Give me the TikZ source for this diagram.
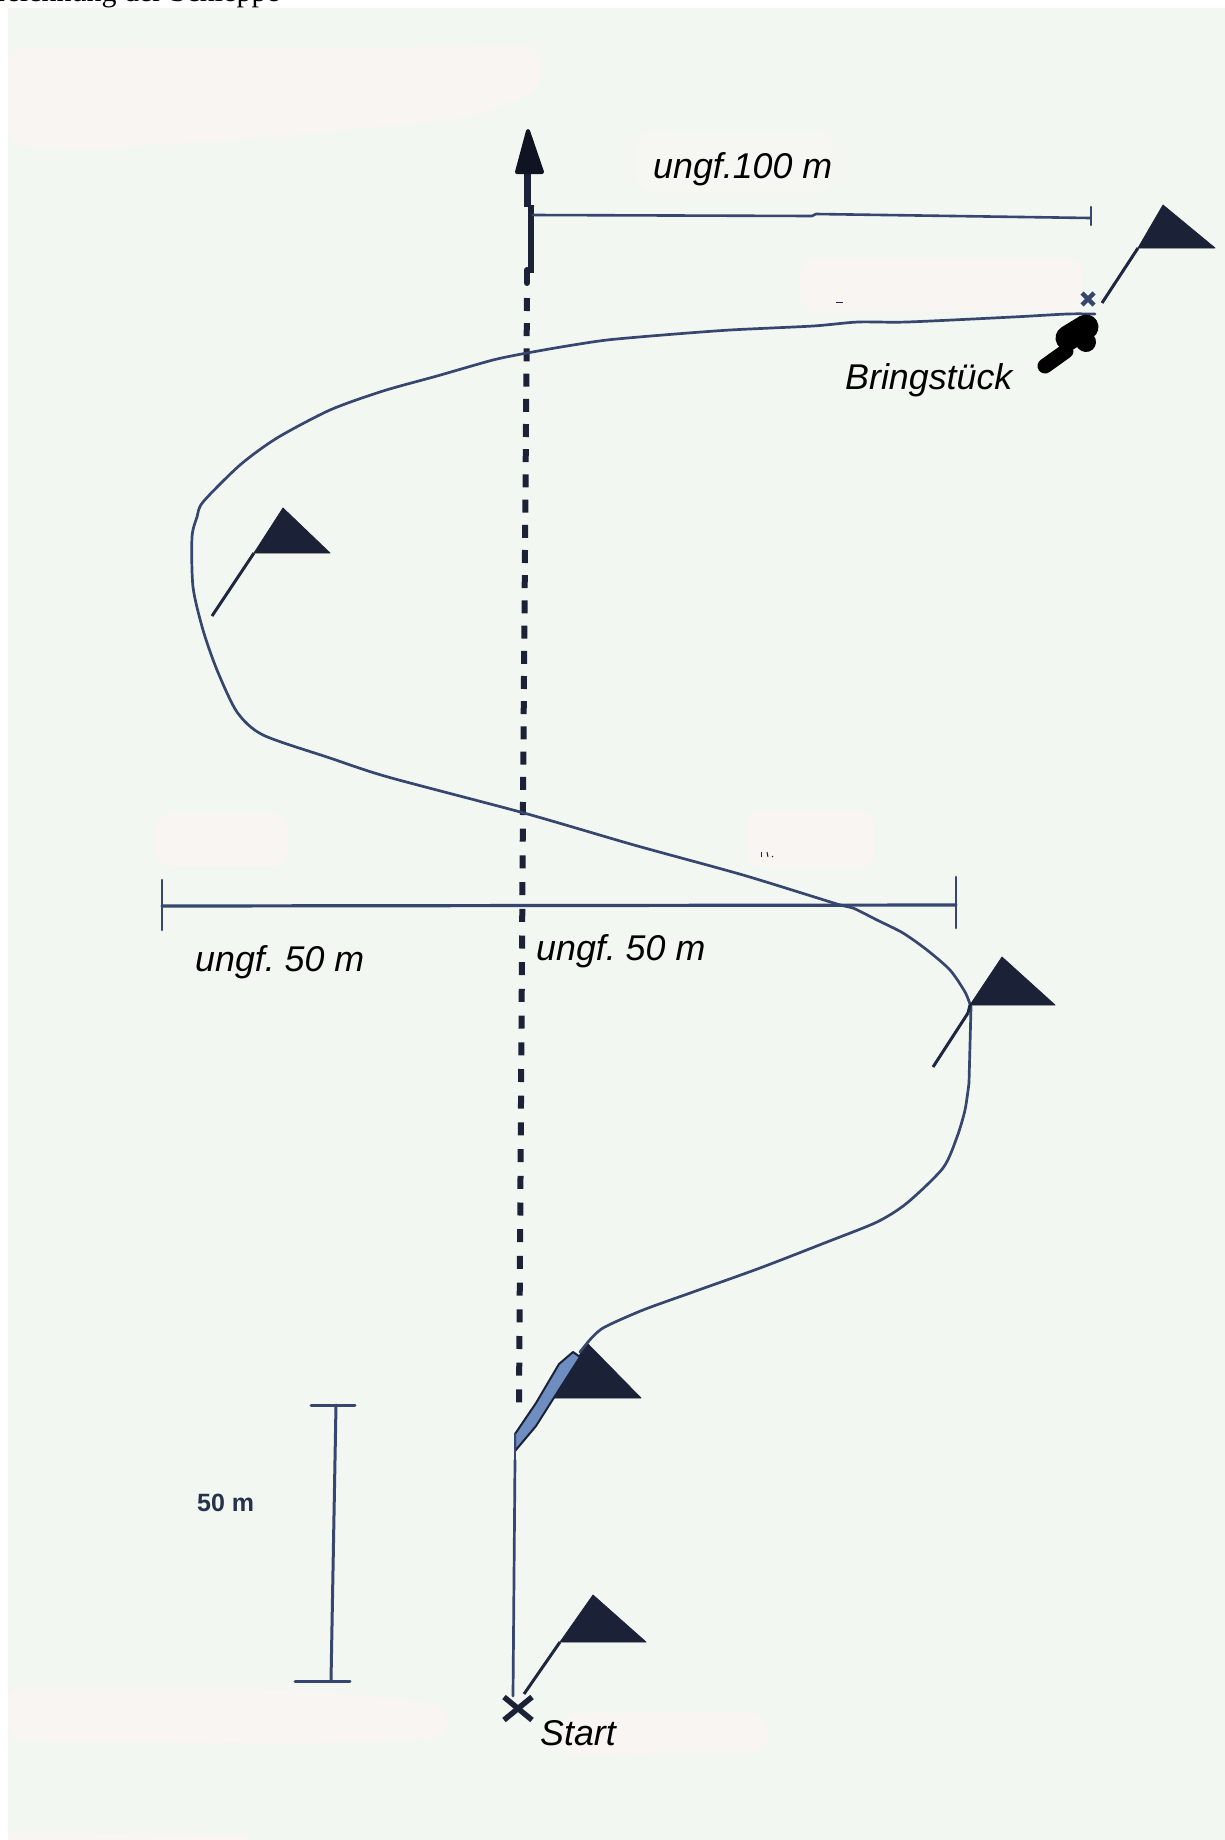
\documentclass[tikz,border=0pt]{standalone}
\usepackage{fontspec}
\setmainfont{Liberation Sans}
\newfontfamily\serifcap{Liberation Serif}
\definecolor{panelbg}{HTML}{F2F7F1}
\definecolor{patchbg}{HTML}{F9F5F2}
\definecolor{patchfaint}{HTML}{F6F6F2}
\definecolor{inkline}{HTML}{36466F}
\definecolor{inkdark}{HTML}{1B2238}
\definecolor{swath}{HTML}{6E8DC0}
\tikzset{
  patch/.style={fill=patchbg,rounded corners=16pt},
  thinline/.style={draw=inkline,line width=2.6pt,line cap=round,line join=round},
  route/.style={draw=inkline,line width=2.7pt,line cap=round,line join=round},
  staffline/.style={draw=inkdark!85!inkline,line width=3pt},
  pennant/.style={fill=inkdark,draw=inkdark,line width=.8pt,line join=round},
  label/.style={font=\fontsize{35.8}{40}\selectfont\itshape,text=black,inner sep=0pt,anchor=base west},
  trail/.style={draw=inkdark,line width=6pt},
}
\newcommand{\flagmark}[7]{%
  \draw[staffline] (#1,#2) -- (#3,#4);
  \fill[pennant] (#3,#4) -- (#5,#6) -- (#7,#4) -- cycle;
}
\begin{document}
\frenchspacing
\begin{tikzpicture}[x=1pt,y=-1pt]
\useasboundingbox (0,0) rectangle (1225,1840);
\begin{scope}
\clip (0,0) rectangle (1225,1840);
\fill[white] (0,0) rectangle (1225,1840);
\fill[panelbg] (8,8) rectangle (1225,1840);
% retouched patches
\fill[patch] (8,48) -- (541,46) -- (541,90) -- (470,118) -- (300,135) -- (90,150) -- (8,146) -- cycle;
\fill[patch] (800,258) -- (1083,258) -- (1083,312) -- (800,312) -- cycle;
\fill[patch,fill=patchfaint] (637,130) -- (833,130) -- (833,193) -- (637,193) -- cycle;
\fill[patch] (156,813) -- (288,813) -- (288,867) -- (156,867) -- cycle;
\fill[patch] (746,810) -- (875,810) -- (875,868) -- (746,868) -- cycle;
\fill[patch] (8,1687) -- (300,1689) -- (448,1705) -- (448,1738) -- (300,1744) -- (8,1740) -- cycle;
\fill[patch] (560,1713) -- (768,1713) -- (768,1752) -- (560,1755) -- cycle;
\fill[patch,rounded corners=3pt] (8,1832) -- (250,1834) -- (250,1850) -- (8,1850) -- cycle;
% clipped caption
\node[font=\serifcap\fontsize{30}{34}\selectfont,text=black,inner sep=0pt,anchor=base east] (caption) at (280,1.5) {Zeichnung der Schleppe};
% dashed trail
\draw[trail,dash pattern=on 13pt off 12.2pt] (527,298) -- (523,802);
\draw[trail,dash pattern=on 13pt off 13.7pt] (523,802) -- (519,1403);
% top arrow
\draw[draw=inkdark,line width=7pt] (527,172) -- (527,207);
\draw[draw=inkdark,line width=5.5pt] (531,205) -- (531,273);
\draw[draw=inkdark,line width=6pt,line cap=round] (527,270) -- (527,283);
\fill[fill=inkdark!60!black,draw=inkdark!60!black,line width=4pt,line join=round] (528,131) -- (517,172) -- (542,172) -- cycle;
% distance bars
\draw[thinline] (533,215) -- (812,216) -- (816,214) -- (1090,218);
\draw[thinline] (1091,207) -- (1091,225);
\draw[thinline,line width=3.2pt] (162,906) -- (956,905);
\draw[thinline] (162,880) -- (162,930);
\draw[thinline] (956,877) -- (956,928);
\draw[thinline,line width=3pt] (336,1405) -- (331,1681);
\draw[thinline,line width=3pt] (311,1405) -- (355,1405);
\draw[thinline,line width=3pt] (295,1681) -- (350,1681);
% route
\draw[route] (513,1696) -- (515,1460);
\draw[route] plot[smooth,tension=0.45] coordinates {
 (588,1342) (603,1328) (643,1310) (693,1292) (760,1268) (827,1242) (877,1222) (907,1203) (943,1168) (957,1137) (965,1110) (969,1083)};
\draw[route] (969,1083) -- (971,1007);
\draw[route] plot[smooth,tension=0.45] coordinates {
 (971,1007) (965,992) (950,970) (927,950) (903,933) (877,920) (853,908) (837,904) (743,875) (634,845) (524,813) (388,777) (330,758) (263,735) (237,712) (217,670) (203,630) (193,587) (192,537) (197,517) (203,502) (240,465) (277,438) (330,410) (383,391) (437,376) (493,360) (527,353) (567,346) (607,340) (663,335) (730,330) (813,326) (858,322) (907,322) (1013,317) (1067,314) (1095,314)};
% flags
\flagmark{524}{1694}{560}{1642}{593}{1595}{646}
\flagmark{968}{1013}{970}{1005}{1002}{957}{1055}
\draw[staffline] (968,1013) -- (933,1067);
\flagmark{212}{616}{254}{553}{283}{508}{330}
\flagmark{1102}{303}{1138}{248}{1163}{205}{1215}
% highlighted flag
\fill[pennant] (553,1398) -- (587,1343) -- (641,1398) -- cycle;
\draw[draw=inkdark,line width=2pt,fill=swath,line join=round] (515,1434) -- (515,1451) -- (536,1426) -- (555,1396) -- (580,1357) -- (573,1352) -- (559,1364) -- (536,1403) -- cycle;
\draw[route] (515,1460) -- (515,1434);
\draw[route] (580,1352) -- (588,1342);
% start cross
\draw[draw=inkdark,line width=5.5pt] (504,1697) -- (532,1720);
\draw[draw=inkdark,line width=5.5pt] (532,1697) -- (504,1720);
% pickup cross and blob
\draw[draw=inkline,line width=4.5pt] (1082,293) -- (1094,305);
\draw[draw=inkline,line width=4.5pt] (1094,293) -- (1082,305);
\draw[draw=black,line width=15pt,line cap=round] (1045,366) -- (1066,351);
\draw[draw=black,line width=25pt,line cap=round] (1068,338) -- (1086,327);
\draw[draw=black,line width=20pt,line cap=round] (1080,335) -- (1086,342);
% specks
\draw[draw=inkdark,line width=1pt] (836,302) -- (843,302);
\draw[draw=inkdark,line width=1pt] (761,852) -- (761,857);
\draw[draw=inkdark,line width=1pt] (767,852) -- (768,857);
\draw[draw=inkdark,line width=1pt] (772,856) -- (773,857);
% labels
\node[label] (hundred) at (653,178) {ungf.100 m};
\node[label] (bring) at (845,389) {Bringstück};
\node[label] (leftfifty) at (195,971) {ungf. 50 m};
\node[label] (rightfifty) at (536,960) {ungf. 50 m};
\node[label] (startlabel) at (540,1745) {Start};
\node[font=\fontsize{25}{28}\selectfont\bfseries,text=inkline!70!black,inner sep=0pt,anchor=base west] (scalelabel) at (197,1511) {50 m};
\end{scope}
\end{tikzpicture}
\end{document}
